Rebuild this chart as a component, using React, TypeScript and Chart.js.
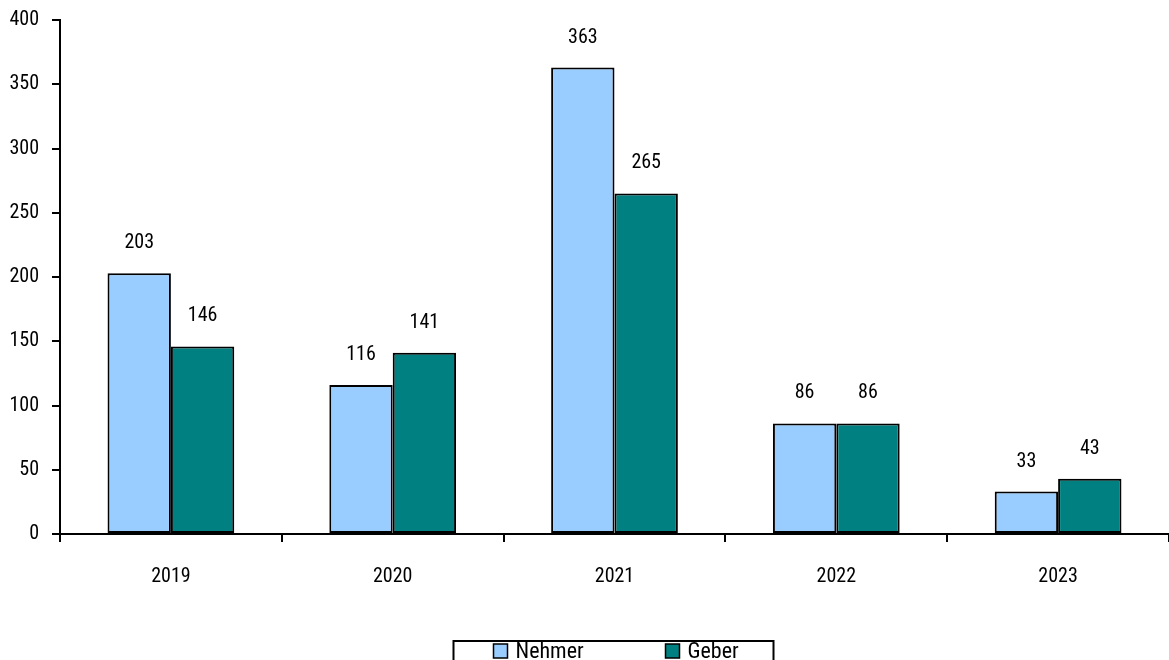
import React, { useEffect, useRef } from "react";
import { Chart, registerables } from "chart.js";

Chart.register(...registerables);

const categories = ["2019", "2020", "2021", "2022", "2023"];
const nehmerValues = [203, 116, 363, 86, 33];
const geberValues = [146, 141, 265, 86, 43];
const seriesNames = ["Nehmer", "Geber"];
const seriesColors = ["#99CCFF", "#008080"];
const yTicks = [0, 50, 100, 150, 200, 250, 300, 350, 400];

const FONT = "'Roboto Condensed', 'Liberation Sans', Arial, sans-serif";

const valueLabelPlugin = {
  id: "valueLabels",
  afterDatasetsDraw(chart: any) {
    const ctx = chart.ctx;
    ctx.save();
    ctx.font = `20px ${FONT}`;
    ctx.fillStyle = "#000";
    ctx.textAlign = "center";
    ctx.textBaseline = "middle";
    chart.data.datasets.forEach((ds: any, i: number) => {
      const meta = chart.getDatasetMeta(i);
      meta.data.forEach((bar: any, j: number) => {
        ctx.fillText(String(ds.data[j]), bar.x, bar.y - 30);
      });
    });
    ctx.restore();
  },
};

const boxedLegendPlugin = {
  id: "boxedLegend",
  afterDraw(chart: any) {
    const ctx = chart.ctx;
    const cx = (chart.chartArea.left + chart.chartArea.right) / 2;
    const boxW = 320;
    const left = cx - boxW / 2 - 1;
    const top = 641;
    ctx.save();
    ctx.strokeStyle = "#000";
    ctx.lineWidth = 2;
    ctx.strokeRect(left, top, boxW, 40);
    ctx.font = `22px ${FONT}`;
    ctx.textBaseline = "middle";
    ctx.textAlign = "left";
    const y = 651;
    const itemX = [left + 40, left + 212];
    chart.data.datasets.forEach((ds: any, i: number) => {
      const x = itemX[i];
      ctx.fillStyle = ds.backgroundColor;
      ctx.fillRect(x, y - 7, 14, 14);
      ctx.lineWidth = 1.5;
      ctx.strokeStyle = "#000";
      ctx.strokeRect(x, y - 7, 14, 14);
      ctx.fillStyle = "#000";
      ctx.fillText(ds.label, x + 22, y + 1);
    });
    ctx.restore();
  },
};

export default function App() {
  const canvasRef = useRef<HTMLCanvasElement | null>(null);

  useEffect(() => {
    document.body.style.margin = "0";
    const canvas = canvasRef.current;
    if (!canvas) return;
    const chart = new Chart(canvas, {
      type: "bar",
      data: {
        labels: categories,
        datasets: [
          {
            label: seriesNames[0],
            data: nehmerValues,
            backgroundColor: seriesColors[0],
            borderColor: "#000",
            borderWidth: 2,
            borderSkipped: false,
            categoryPercentage: 2 / 3.5,
            barPercentage: 1,
          },
          {
            label: seriesNames[1],
            data: geberValues,
            backgroundColor: seriesColors[1],
            borderColor: "#000",
            borderWidth: 2,
            borderSkipped: false,
            categoryPercentage: 2 / 3.5,
            barPercentage: 1,
          },
        ],
      },
      options: {
        animation: false,
        responsive: false,
        maintainAspectRatio: false,
        devicePixelRatio: 1,
        layout: { padding: { top: 20, left: 0, right: 0, bottom: 0 } },
        plugins: {
          legend: { display: false },
          tooltip: { enabled: false },
        },
        scales: {
          x: {
            grid: {
              offset: true,
              drawOnChartArea: false,
              drawTicks: true,
              tickLength: 8,
              color: "#000",
              lineWidth: 2,
            },
            border: { display: true, color: "#000", width: 2 },
            ticks: {
              color: "#000",
              font: { family: FONT, size: 20 },
              padding: 23,
              maxRotation: 0,
            },
            afterFit(scale: any) {
              scale.height = 126;
            },
          },
          y: {
            min: 0,
            max: 400,
            afterBuildTicks(scale: any) {
              scale.ticks = yTicks.map((v) => ({ value: v }));
            },
            grid: {
              drawOnChartArea: false,
              drawTicks: true,
              tickLength: 8,
              color: "#000",
              lineWidth: 2,
            },
            border: { display: true, color: "#000", width: 2 },
            ticks: {
              color: "#000",
              font: { family: FONT, size: 20, lineHeight: 0.6 },
              padding: 13,
            },
            afterFit(scale: any) {
              scale.width = 60;
            },
          },
        },
      },
      plugins: [valueLabelPlugin, boxedLegendPlugin],
    });
    return () => chart.destroy();
  }, []);

  return (
    <div style={{ width: 1169, height: 660 }}>
      <canvas ref={canvasRef} width={1169} height={660} style={{ display: "block" }} />
    </div>
  );
}
